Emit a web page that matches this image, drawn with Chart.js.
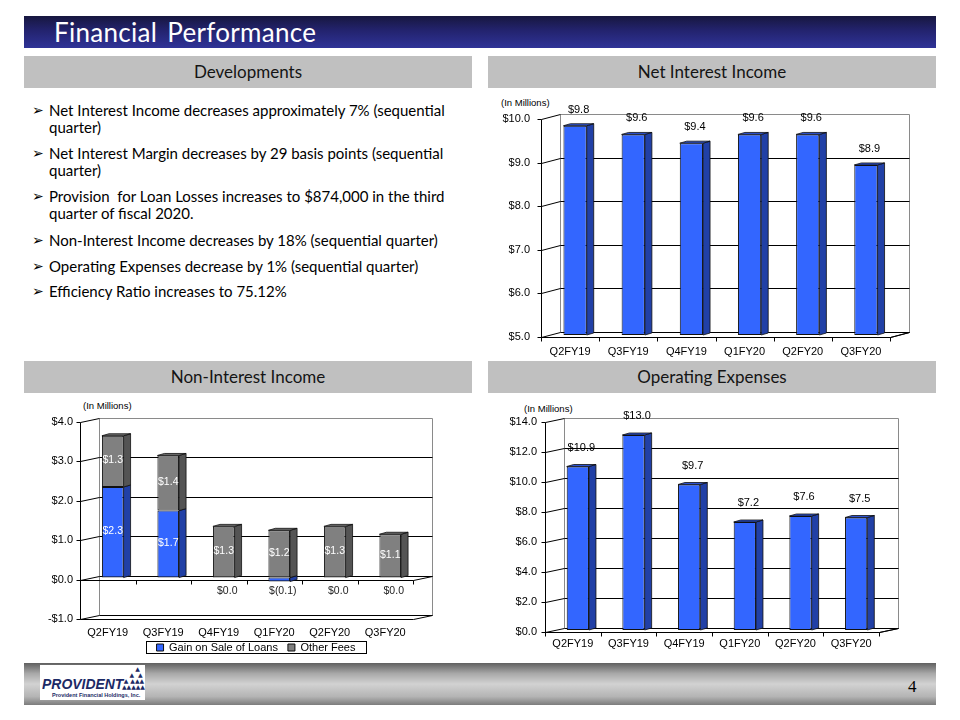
<!DOCTYPE html>
<html><head><meta charset="utf-8">
<script src="https://cdn.jsdelivr.net/npm/chart.js@4.4.1/dist/chart.umd.min.js"></script>
<style>
html,body{margin:0;padding:0;background:#fff;}
body{width:960px;height:720px;position:relative;overflow:hidden;font-family:Lato,"Open Sans",sans-serif;}
#title{position:absolute;left:24px;top:16px;width:912px;height:32px;background:linear-gradient(to bottom,#17173f 0%,#23236e 45%,#2f3397 100%);}
#title span{position:absolute;left:30px;top:1px;color:#fff;font-size:26px;line-height:30px;letter-spacing:0.3px;word-spacing:3px;}
.hdr{position:absolute;width:448px;height:32px;background:#c0c0c0;color:#141414;font-size:17px;text-align:center;line-height:32px;}
.bul{position:absolute;left:34px;font-size:15px;line-height:17px;color:#000;}
.bul .a{position:absolute;left:-2px;top:0;font-family:"DejaVu Sans";font-size:14px;line-height:17px;}
.bul .t{position:absolute;left:15px;top:0;white-space:nowrap;}
.cw{position:absolute;}
.unit{position:absolute;font-family:"Liberation Sans",Arial,sans-serif;font-size:9.5px;color:#000;}
#footer{position:absolute;left:24px;top:663px;width:912px;height:42px;background:linear-gradient(to bottom,#606060 0%,#a8a8a8 25%,#d2d2d2 50%,#b4b4b4 80%,#7c7c7c 100%);}
#logo{position:absolute;left:40px;top:665px;width:105px;height:35px;background:#fff;overflow:hidden;}
#logo .p{position:absolute;left:2px;top:11px;font-family:"Liberation Sans",Arial,sans-serif;font-weight:bold;font-style:italic;font-size:15px;line-height:15px;color:#1c2a66;transform:scaleX(0.93);transform-origin:left top;}
#logo .s{position:absolute;left:12px;top:27px;font-family:"Liberation Sans",Arial,sans-serif;font-weight:bold;font-size:5.5px;color:#1c2a66;white-space:nowrap;}
#logo .tri{position:absolute;left:80px;top:1px;font-family:"DejaVu Sans";font-size:6px;line-height:6px;color:#1c2a66;white-space:pre;}
#pnum{position:absolute;left:908px;top:677px;font-family:"Liberation Serif",serif;font-size:17px;color:#000;}
</style></head>
<body>
<div id="title"><span>Financial Performance</span></div>
<div class="hdr" style="left:24px;top:56px;">Developments</div>
<div class="hdr" style="left:488px;top:56px;">Net Interest Income</div>
<div class="hdr" style="left:24px;top:361px;">Non-Interest Income</div>
<div class="hdr" style="left:488px;top:361px;">Operating Expenses</div>

<div class="bul" style="top:102px;"><span class="a">➢</span><span class="t">Net Interest Income decreases approximately 7% (sequential<br>quarter)</span></div>
<div class="bul" style="top:145px;"><span class="a">➢</span><span class="t">Net Interest Margin decreases by 29 basis points (sequential<br>quarter)</span></div>
<div class="bul" style="top:188px;"><span class="a">➢</span><span class="t">Provision &nbsp;for Loan Losses increases to $874,000 in the third<br>quarter of fiscal 2020.</span></div>
<div class="bul" style="top:232px;"><span class="a">➢</span><span class="t">Non-Interest Income decreases by 18% (sequential quarter)</span></div>
<div class="bul" style="top:258px;"><span class="a">➢</span><span class="t">Operating Expenses decrease by 1% (sequential quarter)</span></div>
<div class="bul" style="top:283px;"><span class="a">➢</span><span class="t">Efficiency Ratio increases to 75.12%</span></div>

<div class="unit" style="left:501px;top:97px;">(In Millions)</div>
<div class="unit" style="left:83px;top:400px;">(In Millions)</div>
<div class="unit" style="left:524px;top:403px;">(In Millions)</div>

<div class="cw" style="left:488px;top:95px;"><canvas id="c1" width="448" height="265"></canvas></div>
<div class="cw" style="left:40px;top:398px;"><canvas id="c2" width="432" height="262"></canvas></div>
<div class="cw" style="left:488px;top:398px;"><canvas id="c3" width="448" height="262"></canvas></div>

<div id="footer"></div>
<div id="logo"><div class="p">PROVIDENT</div><div class="tri">        ▲
     ▲  ▲
  ▲ ▲▲▲
 ▲▲▲▲▲</div><div class="s">Provident Financial Holdings, Inc.</div></div>
<div id="pnum">4</div>

<script>
// ---------- DATA ----------
const quarters = ['Q2FY19','Q3FY19','Q4FY19','Q1FY20','Q2FY20','Q3FY20'];
const netInterestIncome = [9.8, 9.6, 9.4, 9.6, 9.6, 8.9];
const gainOnSaleOfLoans = [2.3, 1.7, 0.0, -0.1, 0.0, 0.0];
const otherFees = [1.3, 1.4, 1.3, 1.2, 1.3, 1.1];
const operatingExpenses = [10.9, 13.0, 9.7, 7.2, 7.6, 7.5];
const niiAxis = [5, 10, 1];     // min, max, step
const nonIntAxis = [-1, 4, 1];
const opExAxis = [0, 14, 2];
const seriesNames = ['Gain on Sale of Loans', 'Other Fees'];

// ---------- STYLE ----------
const BLUE = {front:'#3366ff', side:'#2140a6', top:'#2c52d0'};
const GRAY = {front:'#808080', side:'#545454', top:'#6a6a6a'};
const AXFONT = {family:'"Liberation Sans", Arial, sans-serif', size:11};

function money(v){ return v < 0 ? '-$' + Math.abs(v).toFixed(1) : '$' + v.toFixed(1); }

const threeD = {
  id: 'threeD',
  beforeLayout(chart, args, o){
    if (chart.legend && o.legendHeight && !chart.legend._fixed){
      const lg = chart.legend, f = lg.fit;
      lg.fit = function(){ f.call(this); this.height = o.legendHeight; };
      lg._fixed = true;
    }
  },
  afterLayout(chart, args, o){
    if (chart.legend && o.legendShift){
      chart.legend.top += o.legendShift;
      chart.legend.bottom += o.legendShift;
    }
  },
  beforeDatasetsDraw(chart, args, o){
    const {ctx, chartArea:a, scales:{x, y}} = chart;
    const dx = o.dx, dy = o.dy;
    ctx.save();
    ctx.lineWidth = 1;
    const L = Math.round(a.left) + .5, R = Math.round(a.right) + .5;
    const T = Math.round(a.top) + .5, B = Math.round(a.bottom) + .5;
    ctx.strokeStyle = '#8a8a8a';
    ctx.beginPath();
    ctx.moveTo(L + dx, B + dy); ctx.lineTo(L + dx, T + dy); ctx.lineTo(R + dx, T + dy); ctx.lineTo(R + dx, B + dy);
    ctx.stroke();
    ctx.strokeStyle = '#000';
    y.ticks.forEach(t => {
      const py = Math.round(y.getPixelForValue(t.value)) + .5;
      ctx.beginPath();
      ctx.moveTo(L, py); ctx.lineTo(L + dx, py + dy);
      if (t.value !== y.max) ctx.lineTo(R + dx, py + dy);
      ctx.stroke();
      ctx.beginPath(); ctx.moveTo(L - 4, py); ctx.lineTo(L, py); ctx.stroke();
    });
    ctx.beginPath(); ctx.moveTo(L, T); ctx.lineTo(L, B); ctx.stroke();
    ctx.beginPath(); ctx.moveTo(L, B); ctx.lineTo(R, B); ctx.lineTo(R + dx, B + dy); ctx.stroke();
    const zy = Math.round(y.getPixelForValue(o.cross)) + .5;
    ctx.beginPath(); ctx.moveTo(L, zy); ctx.lineTo(R, zy); ctx.lineTo(R + dx, zy + dy); ctx.stroke();
    for (let i = 0; i <= x.ticks.length; i++){
      const px = Math.round(x.getPixelForValue(i - 0.5)) + .5;
      ctx.beginPath(); ctx.moveTo(px, zy); ctx.lineTo(px, zy + 4); ctx.stroke();
    }
    ctx.restore();
    ctx.save();
    ctx.translate(o.shiftX, -o.shiftY);
  },
  afterDatasetsDraw(chart, args, o){
    const ctx = chart.ctx;
    const d = o.depth, dd = o.depthY;
    const metas = chart.getSortedVisibleDatasetMetas();
    const n = chart.data.labels.length;
    const highest = [];
    for (let i = 0; i < n; i++){
      let m = Infinity;
      metas.forEach(meta => { const p = meta.data[i].getProps(['y','base'], true); m = Math.min(m, p.y, p.base); });
      highest.push(m);
    }
    ctx.lineWidth = 0.8;
    ctx.strokeStyle = '#101010';
    metas.forEach((meta, di) => {
      const col = o.colors[di];
      meta.data.forEach((bar, i) => {
        const p = bar.getProps(['x','y','base','width'], true);
        const x1 = p.x - p.width/2, x2 = p.x + p.width/2;
        const top = Math.min(p.y, p.base), bot = Math.max(p.y, p.base);
        if (bot - top < 0.5) return;
        ctx.fillStyle = col.side;
        ctx.beginPath();
        ctx.moveTo(x2, top); ctx.lineTo(x2 + d, top - dd); ctx.lineTo(x2 + d, bot - dd); ctx.lineTo(x2, bot); ctx.closePath();
        ctx.fill(); ctx.stroke();
        if (Math.abs(top - highest[i]) < 0.5){
          ctx.fillStyle = col.top;
          ctx.beginPath();
          ctx.moveTo(x1, top); ctx.lineTo(x1 + d, top - dd); ctx.lineTo(x2 + d, top - dd); ctx.lineTo(x2, top); ctx.closePath();
          ctx.fill(); ctx.stroke();
        }
      });
    });
    ctx.restore();
  },
  afterDraw(chart, args, o){
    const ctx = chart.ctx;
    ctx.save();
    ctx.font = o.labelFont || '11px "Liberation Sans", Arial, sans-serif';
    ctx.textAlign = 'center';
    ctx.textBaseline = 'middle';
    const y = chart.scales.y;
    const metas = chart.getSortedVisibleDatasetMetas();
    metas.forEach((meta, di) => {
      const vals = chart.data.datasets[meta.index].data;
      meta.data.forEach((bar, i) => {
        const p = bar.getProps(['x','y','base'], true);
        const v = vals[i];
        const cx = p.x + o.shiftX + o.depth/2;
        if (o.labelMode === 'above'){
          ctx.fillStyle = '#000';
          ctx.fillText(money(v), cx, p.y - o.shiftY - o.labelGap);
        } else {
          if (v > 0){
            ctx.fillStyle = '#fff';
            ctx.fillText(money(v), p.x + o.shiftX, (p.y + p.base)/2 - o.shiftY - 1);
          } else {
            ctx.fillStyle = '#222';
            const txt = v < 0 ? '$(' + Math.abs(v).toFixed(1) + ')' : '$0.0';
            ctx.fillText(txt, cx, y.getPixelForValue(0) + 12);
          }
        }
      });
    });
    const lg = chart.legend;
    if (lg && lg.options.display && lg.legendHitBoxes && lg.legendHitBoxes.length){
      const hb = lg.legendHitBoxes;
      let l = Infinity, r = -Infinity, t = Infinity, b = -Infinity;
      hb.forEach(h => { l = Math.min(l, h.left); r = Math.max(r, h.left + h.width); t = Math.min(t, h.top); b = Math.max(b, h.top + h.height); });
      ctx.strokeStyle = '#000'; ctx.lineWidth = 1;
      ctx.strokeRect(Math.round(l - 11) + .5, Math.round(t - 1) + .5, Math.round(r - l + 21), Math.round(b - t + 1));
    }
    ctx.restore();
  }
};

function yScale(ax, width, pad){
  return {
    min: ax[0], max: ax[1], border:{display:false}, grid:{display:false, drawTicks:false},
    ticks:{stepSize: ax[2], color:'#000', font: AXFONT, padding: pad, callback: v => money(v)},
    afterFit: s => { s.width = width; }
  };
}
function xScale(height, pad){
  return {
    border:{display:false}, grid:{display:false, drawTicks:false},
    ticks:{color:'#000', font: AXFONT, padding: pad, maxRotation:0, autoSkip:false},
    afterFit: s => { s.height = height; }
  };
}
const common = {responsive:false, animation:false, devicePixelRatio:1};

// Chart 1: Net Interest Income
new Chart(document.getElementById('c1'), {
  type:'bar',
  data:{labels: quarters, datasets:[{label:'Net Interest Income', data: netInterestIncome,
    backgroundColor: BLUE.front, borderColor:'#101010', borderWidth:1, borderSkipped:false,
    categoryPercentage:1, barPercentage:0.4, base: niiAxis[0]}]},
  options: Object.assign({}, common, {
    layout:{padding:{top:24, right:46, left:0, bottom:0}},
    scales:{x: xScale(23, 8), y: yScale(niiAxis, 53, 11)},
    plugins:{legend:{display:false}, tooltip:{enabled:false},
      threeD:{dx:19, dy:-5, depth:7, depthY:2, shiftX:5, shiftY:2, cross:niiAxis[0], colors:[BLUE], labelMode:'above', labelGap:16}}
  }),
  plugins:[threeD]
});

// Chart 2: Non-Interest Income (stacked)
new Chart(document.getElementById('c2'), {
  type:'bar',
  data:{labels: quarters, datasets:[
    {label: seriesNames[0], data: gainOnSaleOfLoans, backgroundColor: BLUE.front, borderColor:'#101010', borderWidth:1, borderSkipped:false, categoryPercentage:1, barPercentage:0.39},
    {label: seriesNames[1], data: otherFees, backgroundColor: GRAY.front, borderColor:'#101010', borderWidth:1, borderSkipped:false, categoryPercentage:1, barPercentage:0.39}
  ]},
  options: Object.assign({}, common, {
    layout:{padding:{top:24, right:0, left:0, bottom:0}},
    scales:{
      x: Object.assign(xScale(21, 7), {stacked:true}),
      y: Object.assign(yScale(nonIntAxis, 40, 7), {stacked:true}),
      yR: {position:'right', display:true, border:{display:false}, grid:{display:false, drawTicks:false}, ticks:{display:false}, afterFit: s => { s.width = 59; }}
    },
    plugins:{
      legend:{display:true, position:'bottom', labels:{boxWidth:7, boxHeight:7, padding:10, color:'#000', font:{family:'"Liberation Sans", Arial, sans-serif', size:11}}},
      tooltip:{enabled:false},
      threeD:{dx:19, dy:-4, depth:7, depthY:2, shiftX:5, shiftY:2, cross:0, colors:[BLUE, GRAY], labelMode:'inside', legendHeight:20, legendShift:-8, labelFont:'10.5px "Liberation Sans", Arial, sans-serif'}}
  }),
  plugins:[threeD]
});

// Chart 3: Operating Expenses
new Chart(document.getElementById('c3'), {
  type:'bar',
  data:{labels: quarters, datasets:[{label:'Operating Expenses', data: operatingExpenses,
    backgroundColor: BLUE.front, borderColor:'#101010', borderWidth:1, borderSkipped:false,
    categoryPercentage:1, barPercentage:0.4}]},
  options: Object.assign({}, common, {
    layout:{padding:{top:24, right:57, left:0, bottom:0}},
    scales:{x: xScale(28, 5), y: yScale(opExAxis, 57, 8)},
    plugins:{legend:{display:false}, tooltip:{enabled:false},
      threeD:{dx:19, dy:-4, depth:7, depthY:2, shiftX:5, shiftY:2, cross:opExAxis[0], colors:[BLUE], labelMode:'above', labelGap:19}}
  }),
  plugins:[threeD]
});
</script>
</body></html>
